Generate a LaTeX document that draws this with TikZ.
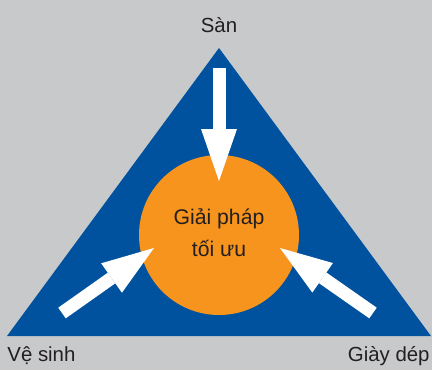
\documentclass[tikz,border=0pt]{standalone}
\usepackage{fontspec}
\setmainfont{Liberation Sans}
\usetikzlibrary{arrows.meta}
\definecolor{bgGray}{HTML}{C8C9CB}
\definecolor{triBlue}{HTML}{00529F}
\definecolor{coreOrange}{HTML}{F7941D}
\definecolor{textDark}{HTML}{231F20}

\begin{document}
\begin{tikzpicture}[x=0.5pt, y=-0.5pt,
  cornertext/.style={inner sep=0pt, text=textDark, font=\fontsize{10.2}{12}\selectfont},
  coretext/.style={inner sep=0pt, text=textDark, font=\fontsize{10.6}{16}\selectfont},
  pusharrow/.style={white, line width=6.5pt, -{Triangle[length=26pt, width=18pt, line width=0pt]}}]

% background
\fill[bgGray] (0,0) rectangle (432,370);

% triangle
\fill[triBlue] (219,48) -- (431,336) -- (7,336) -- cycle;

% core circle
\node[circle, fill=coreOrange, minimum size=80pt, inner sep=0pt] (core) at (219,235) {};

% arrow ends
\coordinate (topTail) at (219,68);
\coordinate (topTip) at (219,181);
\coordinate (leftTail) at (62,313);
\coordinate (leftTip) at (154,248);
\coordinate (rightTail) at (373,313);
\coordinate (rightTip) at (280,248);

\draw[pusharrow] (topTail) -- (topTip);
\draw[pusharrow] (leftTail) -- (leftTip);
\draw[pusharrow] (rightTail) -- (rightTip);

% labels
\node[cornertext, anchor=base] (floor) at (219,32) {Sàn};
\node[cornertext, anchor=base west] (hygiene) at (7,361) {Vệ sinh};
\node[cornertext, anchor=base east] (shoes) at (430,361) {Giày dép};

\node[coretext, anchor=base] (solA) at (219,224) {Giải pháp};
\node[coretext, anchor=base] (solB) at (219,256) {tối ưu};

\end{tikzpicture}
\end{document}
